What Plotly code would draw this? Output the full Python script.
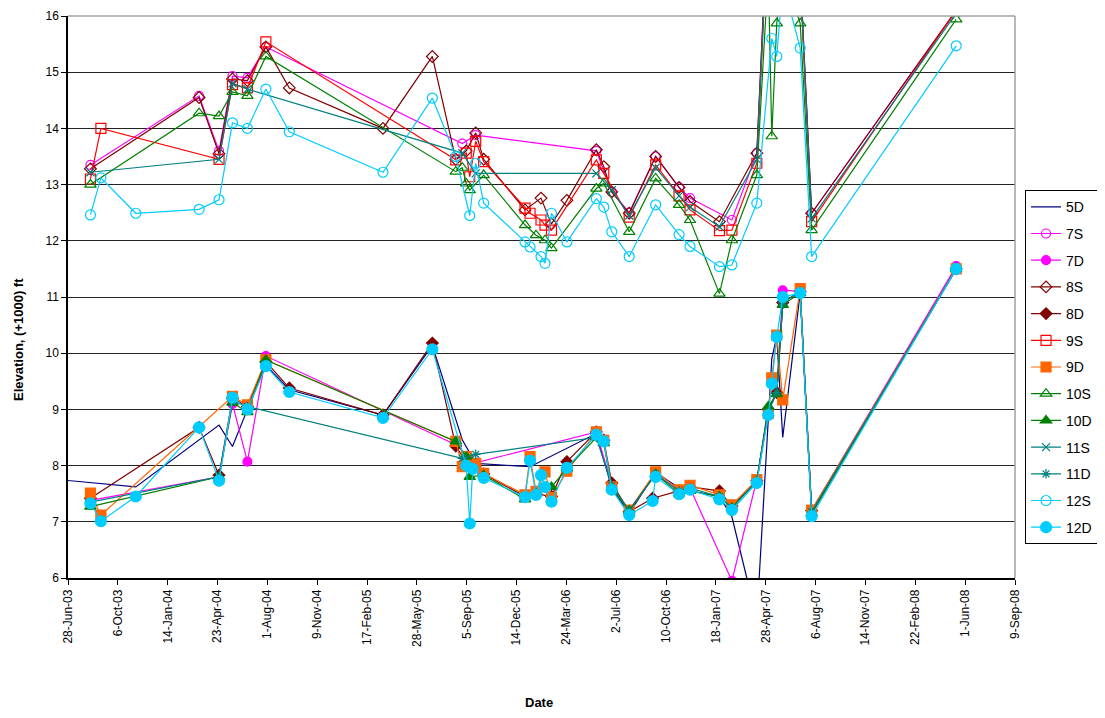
import plotly.graph_objects as go

# ---- sampling dates (codes used by the series below) ----
sample_dates = {
    'pre': '2003-02-12', 'a': '2003-08-12', 'b': '2003-09-02', 'c': '2003-11-11',
    'd': '2004-03-17', 'e': '2004-04-26', 'f': '2004-05-23', 'g': '2004-06-22',
    'h': '2004-07-29', 'i': '2004-09-14', 'j': '2005-03-21', 'k': '2005-06-28',
    'l1': '2005-08-14', 'l2': '2005-08-27', 'l3': '2005-09-04', 'l4': '2005-09-11',
    'l5': '2005-09-17', 'l6': '2005-09-23', 'l7': '2005-10-09',
    'm1': '2005-12-31', 'm2': '2006-01-10', 'm3': '2006-01-22', 'm4': '2006-02-01',
    'm5': '2006-02-09', 'm6': '2006-02-22', 'm7': '2006-03-25',
    'n1': '2006-05-23', 'n2': '2006-06-07', 'n3': '2006-06-23', 'n4': '2006-07-28',
    'n5': '2006-09-13', 'n6': '2006-09-19', 'n7': '2006-11-05', 'n8': '2006-11-27',
    'o1': '2007-01-25', 'o2': '2007-02-19', 'o3': '2007-04-10', 'o4': '2007-05-03',
    'o5': '2007-05-10', 'o6': '2007-05-20', 'o7': '2007-06-01', 'o8': '2007-07-06',
    'o9': '2007-07-29', 'p': '2008-05-14',
}

# ---- series data ----
x_5D = ['pre', 'c', 'e', 'f', 'g', 'h', 'i', 'j', 'k', 'l2', 'l6', 'm2', 'n1', 'n3', 'n4', 'n6', 'n7', 'n8',
        'o1', 'o2', 'o3', 'o5', 'o6', 'o7', 'o8', 'o9', 'p']
y_5D = [7.85, 7.62, 8.72, 8.34, 9.0, 9.79, 9.35, 8.9, 10.14, 8.46, 8.04, 7.98, 8.57, 7.6, 7.15, 7.88, 7.6, 7.55,
        7.45, 7.09, 5.27, 9.9, 10.3, 8.5, 11.07, 7.15, 11.5]

x_7S = ['a', 'd', 'e', 'f', 'g', 'h', 'l2', 'l6', 'n1', 'n3', 'n4', 'n6', 'n7', 'n8', 'o2', 'o3', 'o4', 'o8', 'o9', 'p']
y_7S = [13.35, 14.58, 13.6, 14.93, 14.9, 15.45, 13.73, 13.88, 13.6, 12.87, 12.5, 13.5, 12.95, 12.76, 12.37, 13.56,
        18.0, 16.8, 12.49, 16.1]

x_7D = ['a', 'e', 'f', 'g', 'h', 'l1', 'l6', 'n1', 'n3', 'n4', 'n6', 'n7', 'n8', 'o2', 'o3', 'o4', 'o6', 'o7', 'o8',
        'o9', 'p']
y_7D = [7.38, 7.8, 9.1, 8.07, 9.95, 8.37, 8.05, 8.6, 7.65, 7.2, 7.85, 7.55, 7.6, 5.95, 7.75, 9.0, 9.3, 11.12, 11.1,
        7.2, 11.55]

x_8S = ['a', 'd', 'e', 'f', 'g', 'h', 'i', 'j', 'k', 'l1', 'l3', 'l6', 'l7', 'm1', 'm4', 'm6', 'm7', 'n1', 'n2', 'n3',
        'n4', 'n6', 'n7', 'n8', 'o1', 'o3', 'o4', 'o8', 'o9', 'p']
y_8S = [13.28, 14.55, 13.55, 14.88, 14.85, 15.45, 14.72, 14.0, 15.28, 13.45, 13.6, 13.92, 13.45, 12.55, 12.76, 12.3,
        12.72, 13.62, 13.32, 12.87, 12.49, 13.5, 12.95, 12.7, 12.34, 13.56, 18.0, 16.8, 12.49, 16.1]

x_8D = ['a', 'd', 'e', 'f', 'g', 'h', 'i', 'j', 'k', 'l1', 'l3', 'l6', 'l7', 'm1', 'm3', 'm6', 'm7', 'n1', 'n2', 'n3',
        'n4', 'n5', 'n7', 'n8', 'o1', 'o2', 'o3', 'o4', 'o6', 'o7', 'o8', 'o9', 'p']
y_8D = [7.42, 8.68, 7.83, 9.2, 9.05, 9.85, 9.38, 8.9, 10.18, 8.35, 8.05, 8.0, 7.85, 7.45, 7.5, 7.45, 8.07, 8.6, 8.45,
        7.69, 7.18, 7.42, 7.55, 7.62, 7.55, 7.28, 7.73, 9.0, 9.3, 10.9, 11.1, 7.2, 11.5]

x_9S = ['a', 'b', 'e', 'f', 'g', 'h', 'l1', 'l3', 'l4', 'l6', 'l7', 'm1', 'm2', 'm4', 'm5', 'm6', 'n1', 'n2', 'n4',
        'n6', 'n7', 'n8', 'o1', 'o2', 'o3', 'o4', 'o8', 'o9', 'p']
y_9S = [13.1, 14.0, 13.45, 14.78, 14.72, 15.54, 13.44, 13.56, 13.14, 13.77, 13.41, 12.58, 12.49, 12.37, 12.28, 12.19,
        13.44, 13.2, 12.42, 13.35, 12.8, 12.55, 12.18, 12.19, 13.38, 17.8, 16.7, 12.34, 16.1]

x_9D = ['a', 'b', 'f', 'g', 'h', 'l1', 'l2', 'l3', 'l6', 'l7', 'm1', 'm2', 'm3', 'm5', 'm6', 'm7', 'n1', 'n2', 'n3',
        'n4', 'n6', 'n7', 'n8', 'o1', 'o2', 'o3', 'o4', 'o5', 'o6', 'o7', 'o8', 'o9', 'p']
y_9D = [7.51, 7.12, 9.23, 9.08, 9.88, 8.43, 7.98, 8.16, 8.04, 7.86, 7.48, 8.16, 7.54, 7.89, 7.43, 7.9, 8.6, 8.45, 7.62,
        7.21, 7.89, 7.57, 7.65, 7.48, 7.30, 7.75, 8.93, 9.56, 10.32, 9.17, 11.15, 7.21, 11.5]

x_10S = ['a', 'd', 'e', 'f', 'g', 'h', 'l1', 'l2', 'l3', 'l4', 'l7', 'm1', 'm3', 'm5', 'm6', 'n1', 'n2', 'n4', 'n6',
         'n7', 'n8', 'o1', 'o2', 'o3', 'o4', 'o5', 'o6', 'o7', 'o8', 'o9', 'p']
y_10S = [13.0, 14.27, 14.22, 14.65, 14.58, 15.28, 13.23, 13.3, 13.02, 12.9, 13.17, 12.28, 12.10, 12.01, 11.87, 12.93,
         13.02, 12.16, 13.11, 12.64, 12.37, 11.06, 12.01, 13.17, 16.8, 13.86, 15.87, 16.8, 15.87, 12.19, 15.94]

x_10D = ['a', 'e', 'f', 'g', 'h', 'l1', 'l3', 'l4', 'l7', 'm1', 'm3', 'm6', 'm7', 'n1', 'n2', 'n3', 'n4', 'n6', 'n7',
         'n8', 'o1', 'o2', 'o3', 'o4', 'o6', 'o7', 'o8', 'o9', 'p']
y_10D = [7.27, 7.8, 9.12, 8.95, 9.88, 8.43, 8.16, 7.8, 7.83, 7.4, 7.5, 7.62, 7.95, 8.5, 8.4, 7.6, 7.2, 7.85, 7.5,
         7.55, 7.45, 7.25, 7.72, 9.05, 9.27, 10.86, 11.07, 7.15, 11.5]

x_11S = ['a', 'e', 'f', 'g', 'l2', 'l6', 'n1', 'n3', 'n4', 'n6', 'n7', 'n8', 'o1', 'o3', 'o4', 'o8', 'o9', 'p']
y_11S = [13.22, 13.45, 14.8, 14.7, 13.56, 13.2, 13.2, 12.9, 12.45, 13.3, 12.8, 12.6, 12.25, 13.45, 17.8, 16.7,
         12.4, 16.05]

x_11D = ['a', 'e', 'f', 'g', 'l2', 'l6', 'n1', 'n3', 'n4', 'n6', 'n7', 'n8', 'o1', 'o2', 'o3', 'o4', 'o6', 'o7', 'o8',
         'o9', 'p']
y_11D = [7.35, 7.8, 9.15, 9.05, 8.13, 8.2, 8.5, 7.65, 7.2, 7.85, 7.55, 7.6, 7.45, 7.25, 7.72, 8.95, 9.3, 10.9, 11.1,
         7.18, 11.5]

x_12S = ['a', 'b', 'c', 'd', 'e', 'f', 'g', 'h', 'i', 'j', 'k', 'l1', 'l4', 'l6', 'l7', 'm1', 'm2', 'm4', 'm5', 'm6',
         'm7', 'n1', 'n2', 'n3', 'n4', 'n6', 'n7', 'n8', 'o1', 'o2', 'o3', 'o5', 'o6', 'o7', 'o8', 'o9', 'p']
y_12S = [12.46, 13.12, 12.49, 12.56, 12.73, 14.10, 14.0, 14.70, 13.94, 13.22, 14.54, 13.5, 12.45, 13.38, 12.67, 11.98,
         11.89, 11.72, 11.60, 12.49, 11.98, 12.75, 12.60, 12.16, 11.72, 12.64, 12.11, 11.9, 11.54, 11.57, 12.67, 15.6,
         15.28, 16.6, 15.43, 11.72, 15.47]

x_12D = ['a', 'b', 'c', 'd', 'e', 'f', 'g', 'h', 'i', 'j', 'k', 'l3', 'l4', 'l5', 'l7', 'm1', 'm2', 'm3', 'm4', 'm5',
         'm6', 'm7', 'n1', 'n2', 'n3', 'n4', 'n5', 'n6', 'n7', 'n8', 'o1', 'o2', 'o3', 'o4', 'o5', 'o6', 'o7', 'o8',
         'o9', 'p']
y_12D = [7.33, 7.01, 7.45, 8.68, 7.73, 9.21, 9.0, 9.77, 9.31, 8.85, 10.07, 8.0, 6.97, 7.94, 7.78, 7.44, 8.09, 7.48,
         7.83, 7.62, 7.36, 7.96, 8.55, 8.43, 7.57, 7.12, 7.37, 7.80, 7.49, 7.57, 7.40, 7.21, 7.69, 8.9, 9.46, 10.29,
         11.0, 11.07, 7.1, 11.5]

series_names = ['5D', '7S', '7D', '8S', '8D', '9S', '9D', '10S', '10D', '11S', '11D', '12S', '12D']
series_x = [x_5D, x_7S, x_7D, x_8S, x_8D, x_9S, x_9D, x_10S, x_10D, x_11S, x_11D, x_12S, x_12D]
series_y = [y_5D, y_7S, y_7D, y_8S, y_8D, y_9S, y_9D, y_10S, y_10D, y_11S, y_11D, y_12S, y_12D]

# ---- styles ----
colors = ['#000080', '#FF00FF', '#FF00FF', '#800000', '#800000', '#FF0000', '#FF6600',
          '#008000', '#008000', '#008080', '#008080', '#00CCFF', '#00CCFF']
symbols = [None, 'circle-open', 'circle', 'diamond-open', 'diamond', 'square-open', 'square',
           'triangle-up-open', 'triangle-up', 'x-thin-open', 'asterisk-open', 'circle-open', 'circle']
sizes = [0, 9, 9, 9, 9, 10, 10, 10, 10, 8, 8, 10, 11]

fig = go.Figure()
for name, xs, ys, col, sym, sz in zip(series_names, series_x, series_y, colors, symbols, sizes):
    dates = [sample_dates[c] for c in xs]
    if sym is None:
        fig.add_trace(go.Scatter(x=dates, y=ys, mode='lines', name=name, legendgroup=name,
                                 line=dict(color=col, width=1.2)))
    else:
        fig.add_trace(go.Scatter(x=dates, y=ys, mode='lines+markers', name=name, legendgroup=name,
                                 line=dict(color=col, width=1.2),
                                 marker=dict(symbol=sym, size=sz, color=col,
                                             line=dict(color=col, width=1.2))))

font_family = 'Arial, Liberation Sans, sans-serif'
fig.update_layout(
    width=1089, height=702,
    margin=dict(l=60, r=82, t=8, b=132, autoexpand=False),
    paper_bgcolor='white', plot_bgcolor='white',
    font=dict(family=font_family, size=12, color='black'),
    showlegend=True,
    legend=dict(x=1.0106, y=0.69, xanchor='left', yanchor='top',
                bordercolor='black', borderwidth=1, bgcolor='white',
                font=dict(size=14, family=font_family), tracegroupgap=5.5,
                itemwidth=30),
)
fig.update_xaxes(
    type='date', range=['2003-06-28', '2008-09-09'],
    tick0='2003-06-28', dtick=100 * 24 * 3600 * 1000, tickformat='%-d-%b-%y',
    tickangle=-90, ticks='outside', ticklen=5, tickcolor='black',
    showline=True, linecolor='black', linewidth=1.5, mirror=False,
    showgrid=False, zeroline=False, tickfont=dict(size=12),
)
fig.update_yaxes(
    range=[6, 16], dtick=1, ticks='outside', ticklen=5, tickcolor='black',
    showline=True, linecolor='black', linewidth=1.5,
    showgrid=True, gridcolor='#222222', gridwidth=1.3, zeroline=False,
    tickfont=dict(size=12),
)
# light plot-area border on top and right
fig.add_shape(type='line', xref='paper', yref='paper', x0=0, x1=1, y0=1, y1=1,
              line=dict(color='#A0A0A0', width=1.5))
fig.add_shape(type='line', xref='paper', yref='paper', x0=1, x1=1, y0=0, y1=1,
              line=dict(color='#A0A0A0', width=1.5))

fig.add_annotation(text='<b>Date</b>', xref='paper', yref='paper', x=0.497, y=-0.222,
                   showarrow=False, font=dict(size=13, family=font_family), xanchor='center', yanchor='middle')
fig.add_annotation(text='<b>Elevation, (+1000) ft</b>', xref='paper', yref='paper', x=-0.053, y=0.425,
                   textangle=-90, showarrow=False, font=dict(size=13, family=font_family),
                   xanchor='center', yanchor='middle')

fig.write_html('out.html')
